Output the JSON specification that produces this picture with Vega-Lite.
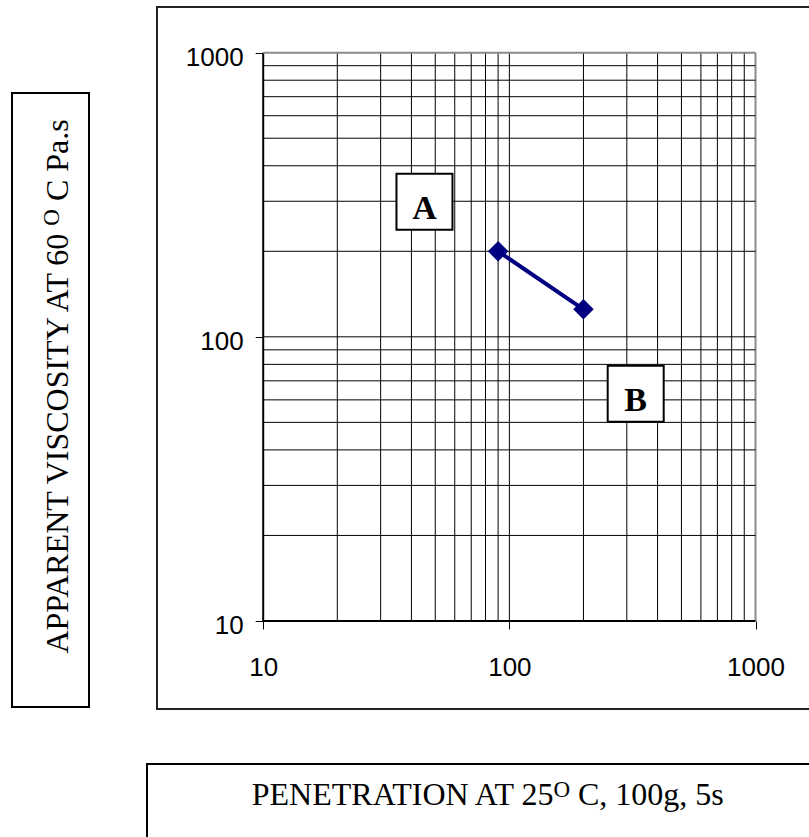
{
  "$schema": "https://vega.github.io/schema/vega-lite/v6.json",
  "padding": {"left": 11, "top": 6, "right": 0, "bottom": 0},
  "background": "white",
  "config": {"view": {"stroke": null}},
  "datasets": {
    "grid": [{"v":10},{"v":20},{"v":30},{"v":40},{"v":50},{"v":60},{"v":70},{"v":80},{"v":90},{"v":100},{"v":200},{"v":300},{"v":400},{"v":500},{"v":600},{"v":700},{"v":800},{"v":900},{"v":1000}],
    "points": [{"penetration": 90, "viscosity": 200}, {"penetration": 200, "viscosity": 125}],
    "regions": [{"label": "A", "penetration": 45.2, "viscosity": 299}, {"label": "B", "penetration": 326, "viscosity": 63}],
    "xtitle": [{"p1": "PENETRATION AT 25", "sup": "O", "p3": "C, 100g, 5s"}],
    "ytitle": [{"p1": "APPARENT VISCOSITY AT 60", "sup": "O", "p3": "C Pa.s"}]
  },
  "spacing": 53,
  "vconcat": [
    {
      "spacing": 66,
      "hconcat": [
        {
          "spacing": 84,
          "vconcat": [
            {"width": 77, "height": 1, "data": {"values": []}, "mark": "point", "encoding": {}},
            {
              "width": 77, "height": 614,
              "view": {"stroke": "black", "strokeWidth": 2},
              "data": {"name": "ytitle"},
              "layer": [
                {"mark": {"type": "text", "font": "Liberation Serif", "fontSize": 32, "angle": 270, "align": "right", "baseline": "alphabetic", "dx": 166.35, "dy": 17, "color": "black"}, "encoding": {"text": {"field": "p1"}}},
                {"mark": {"type": "text", "font": "Liberation Serif", "fontSize": 23, "angle": 270, "align": "left", "baseline": "alphabetic", "dx": 174.35, "dy": 8.5, "color": "black"}, "encoding": {"text": {"field": "sup"}}},
                {"mark": {"type": "text", "font": "Liberation Serif", "fontSize": 32, "angle": 270, "align": "left", "baseline": "alphabetic", "dx": 198.95, "dy": 17, "color": "black"}, "encoding": {"text": {"field": "p3"}}}
              ]
            }
          ]
        },
        {
          "width": 655, "height": 702,
          "view": {"stroke": "#222", "strokeWidth": 2},
          "layer": [
            {
              "data": {"name": "grid"},
              "mark": {"type": "rule"},
              "encoding": {
                "x": {"field": "v", "type": "quantitative", "scale": {"type": "log", "domain": [3.703, 1696], "nice": false},
                      "axis": {"orient": "bottom", "offset": -88, "values": [10, 100, 1000], "format": "d", "grid": false, "domain": false, "tickSize": 8, "tickColor": "#000", "tickWidth": 1, "labelFont": "Liberation Sans", "labelFontSize": 26, "labelColor": "#000", "labelPadding": 25, "labelFlush": false, "labelOverlap": false, "title": null}},
                "y": {"datum": 10, "type": "quantitative", "scale": {"type": "log", "domain": [4.9, 1448], "nice": false},
                      "axis": {"orient": "left", "offset": -106.2, "values": [10, 100, 1000], "format": "d", "grid": false, "domain": false, "tickSize": 8, "tickColor": "#000", "tickWidth": 1, "labelFont": "Liberation Sans", "labelFontSize": 26, "labelColor": "#000", "labelPadding": 12, "labelOffset": 5, "labelOverlap": false, "title": null}},
                "y2": {"datum": 1000},
                "color": {"condition": {"test": "datum.v == 1000", "value": "#8a8a8a"}, "value": "#000"},
                "strokeWidth": {"condition": {"test": "datum.v == 1000 || datum.v == 10", "value": 2}, "value": 1}
              }
            },
            {
              "data": {"name": "grid"},
              "mark": {"type": "rule"},
              "encoding": {
                "y": {"field": "v", "type": "quantitative", "scale": {"type": "log", "domain": [4.9, 1448], "nice": false}, "axis": {"title": null}},
                "x": {"datum": 10, "type": "quantitative", "scale": {"type": "log", "domain": [3.703, 1696], "nice": false}, "axis": {"title": null}},
                "x2": {"datum": 1000},
                "color": {"condition": {"test": "datum.v == 1000", "value": "#8a8a8a"}, "value": "#000"},
                "strokeWidth": {"condition": {"test": "datum.v == 1000 || datum.v == 10", "value": 2}, "value": 1}
              }
            },
            {
              "data": {"name": "regions"},
              "mark": {"type": "point", "shape": "square", "size": 3136, "fill": "white", "stroke": "black", "strokeWidth": 2, "opacity": 1, "fillOpacity": 1},
              "encoding": {
                "x": {"field": "penetration", "type": "quantitative", "scale": {"type": "log", "domain": [3.703, 1696], "nice": false}, "axis": {"title": null}},
                "y": {"field": "viscosity", "type": "quantitative", "scale": {"type": "log", "domain": [4.9, 1448], "nice": false}, "axis": {"title": null}}
              }
            },
            {
              "data": {"name": "regions"},
              "mark": {"type": "text", "font": "Liberation Serif", "fontWeight": "bold", "fontSize": 34, "baseline": "alphabetic", "align": "center", "dy": 17, "color": "black"},
              "encoding": {
                "x": {"field": "penetration", "type": "quantitative", "scale": {"type": "log", "domain": [3.703, 1696], "nice": false}, "axis": {"title": null}},
                "y": {"field": "viscosity", "type": "quantitative", "scale": {"type": "log", "domain": [4.9, 1448], "nice": false}, "axis": {"title": null}},
                "text": {"field": "label"}
              }
            },
            {
              "data": {"name": "points"},
              "mark": {"type": "line", "color": "#000080", "strokeWidth": 4, "point": {"shape": "diamond", "size": 420, "filled": true, "color": "#000080", "opacity": 1}},
              "encoding": {
                "x": {"field": "penetration", "type": "quantitative", "scale": {"type": "log", "domain": [3.703, 1696], "nice": false}, "axis": {"title": null}},
                "y": {"field": "viscosity", "type": "quantitative", "scale": {"type": "log", "domain": [4.9, 1448], "nice": false}, "axis": {"title": null}}
              }
            }
          ]
        }
      ]
    },
    {
      "spacing": 57,
      "hconcat": [
        {"width": 77, "height": 1, "data": {"values": []}, "mark": "point", "encoding": {}},
        {
          "width": 666, "height": 76,
          "view": {"stroke": "black", "strokeWidth": 2},
          "data": {"name": "xtitle"},
          "layer": [
            {"mark": {"type": "text", "font": "Liberation Serif", "fontSize": 32, "align": "right", "baseline": "alphabetic", "dx": 73.4, "dy": 3, "color": "black"}, "encoding": {"text": {"field": "p1"}}},
            {"mark": {"type": "text", "font": "Liberation Serif", "fontSize": 23, "align": "left", "baseline": "alphabetic", "dx": 73.4, "dy": -5, "color": "black"}, "encoding": {"text": {"field": "sup"}}},
            {"mark": {"type": "text", "font": "Liberation Serif", "fontSize": 32, "align": "left", "baseline": "alphabetic", "dx": 98.0, "dy": 3, "color": "black"}, "encoding": {"text": {"field": "p3"}}}
          ]
        }
      ]
    }
  ]
}
